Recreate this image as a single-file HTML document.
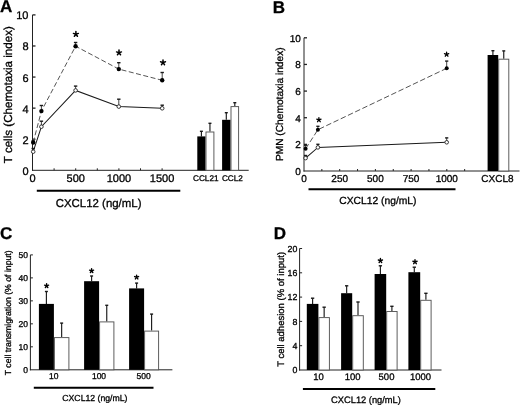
<!DOCTYPE html>
<html><head><meta charset="utf-8"><style>
html,body{margin:0;padding:0;background:#fff;width:520px;height:407px;overflow:hidden}
svg{display:block;filter:blur(0.3px)}
text{text-rendering:geometricPrecision;font-family:"Liberation Sans", sans-serif;fill:#000;stroke:#000;stroke-width:0.3px;paint-order:stroke}
body{-webkit-font-smoothing:antialiased}
svg{will-change:transform}
</style></head><body>
<svg width="520" height="407" viewBox="0 0 520 407">
<rect width="520" height="407" fill="#fff"/>
<text x="0" y="12.4" font-size="17" text-anchor="start" font-weight="bold" >A</text>
<text x="272.7" y="13.3" font-size="17" text-anchor="start" font-weight="bold" >B</text>
<text x="0.1" y="239.1" font-size="17" text-anchor="start" font-weight="bold" >C</text>
<text x="273.8" y="239.0" font-size="17" text-anchor="start" font-weight="bold" >D</text>
<line x1="32.5" y1="14.9" x2="32.5" y2="170.8" stroke="#222" stroke-width="1" />
<line x1="32.0" y1="170.3" x2="248.7" y2="170.3" stroke="#222" stroke-width="1" />
<text x="28.5" y="174.8" font-size="11" text-anchor="end" font-weight="normal" >0</text>
<line x1="32.5" y1="139.22" x2="35.5" y2="139.22" stroke="#222" stroke-width="1.3" />
<text x="28.5" y="143.72" font-size="11" text-anchor="end" font-weight="normal" >2</text>
<line x1="32.5" y1="108.14000000000001" x2="35.5" y2="108.14000000000001" stroke="#222" stroke-width="1.3" />
<text x="28.5" y="112.64000000000001" font-size="11" text-anchor="end" font-weight="normal" >4</text>
<line x1="32.5" y1="77.06" x2="35.5" y2="77.06" stroke="#222" stroke-width="1.3" />
<text x="28.5" y="81.56" font-size="11" text-anchor="end" font-weight="normal" >6</text>
<line x1="32.5" y1="45.980000000000004" x2="35.5" y2="45.980000000000004" stroke="#222" stroke-width="1.3" />
<text x="28.5" y="50.480000000000004" font-size="11" text-anchor="end" font-weight="normal" >8</text>
<line x1="32.5" y1="14.900000000000006" x2="35.5" y2="14.900000000000006" stroke="#222" stroke-width="1.3" />
<text x="28.5" y="19.400000000000006" font-size="11" text-anchor="end" font-weight="normal" >10</text>
<line x1="54.1" y1="170.3" x2="54.1" y2="168.3" stroke="#222" stroke-width="1" />
<line x1="75.7" y1="170.3" x2="75.7" y2="168.3" stroke="#222" stroke-width="1" />
<line x1="97.3" y1="170.3" x2="97.3" y2="168.3" stroke="#222" stroke-width="1" />
<line x1="118.9" y1="170.3" x2="118.9" y2="168.3" stroke="#222" stroke-width="1" />
<line x1="140.5" y1="170.3" x2="140.5" y2="168.3" stroke="#222" stroke-width="1" />
<line x1="162.1" y1="170.3" x2="162.1" y2="168.3" stroke="#222" stroke-width="1" />
<text x="32.5" y="182.4" font-size="11" text-anchor="middle" font-weight="normal" >0</text>
<text x="75.7" y="182.4" font-size="11" text-anchor="middle" font-weight="normal" >500</text>
<text x="118.9" y="182.4" font-size="11" text-anchor="middle" font-weight="normal" >1000</text>
<text x="162.1" y="182.4" font-size="11" text-anchor="middle" font-weight="normal" >1500</text>
<text x="0" y="0" font-size="11.6" text-anchor="middle" transform="translate(11.8,94.7) rotate(-90)">T cells (Chemotaxia index)</text>
<line x1="36.8" y1="190.8" x2="180.3" y2="190.8" stroke="#000" stroke-width="2.1" />
<text x="98.6" y="206.6" font-size="11.45" text-anchor="middle" font-weight="normal" >CXCL12 (ng/mL)</text>
<polyline points="33.2,142.5 41.4,111.1 75.6,46.2 118.8,69.1 162.2,80.3" fill="none" stroke="#555" stroke-width="1" stroke-dasharray="5,2.5"/>
<polyline points="33.2,151.7 41.4,126.7 75.6,90.4 118.8,106.6 162.2,108.3" fill="none" stroke="#1a1a1a" stroke-width="1.05"/>
<line x1="33.2" y1="142.5" x2="33.2" y2="141.0" stroke="#444" stroke-width="1.0" />
<line x1="31.500000000000004" y1="141.0" x2="34.900000000000006" y2="141.0" stroke="#1a1a1a" stroke-width="1.4" />
<line x1="33.2" y1="151.7" x2="33.2" y2="148.5" stroke="#444" stroke-width="1.0" />
<line x1="31.500000000000004" y1="148.5" x2="34.900000000000006" y2="148.5" stroke="#1a1a1a" stroke-width="1.4" />
<line x1="41.4" y1="111.1" x2="41.4" y2="105.5" stroke="#444" stroke-width="1.0" />
<line x1="39.699999999999996" y1="105.5" x2="43.1" y2="105.5" stroke="#1a1a1a" stroke-width="1.4" />
<line x1="41.4" y1="126.7" x2="41.4" y2="121.2" stroke="#444" stroke-width="1.0" />
<line x1="39.699999999999996" y1="121.2" x2="43.1" y2="121.2" stroke="#1a1a1a" stroke-width="1.4" />
<line x1="75.6" y1="46.2" x2="75.6" y2="42.5" stroke="#444" stroke-width="1.0" />
<line x1="73.89999999999999" y1="42.5" x2="77.3" y2="42.5" stroke="#1a1a1a" stroke-width="1.4" />
<line x1="75.6" y1="90.4" x2="75.6" y2="86.1" stroke="#444" stroke-width="1.0" />
<line x1="73.89999999999999" y1="86.1" x2="77.3" y2="86.1" stroke="#1a1a1a" stroke-width="1.4" />
<line x1="118.8" y1="69.1" x2="118.8" y2="62.7" stroke="#444" stroke-width="1.0" />
<line x1="117.1" y1="62.7" x2="120.5" y2="62.7" stroke="#1a1a1a" stroke-width="1.4" />
<line x1="118.8" y1="106.6" x2="118.8" y2="99.2" stroke="#444" stroke-width="1.0" />
<line x1="117.1" y1="99.2" x2="120.5" y2="99.2" stroke="#1a1a1a" stroke-width="1.4" />
<line x1="162.2" y1="80.3" x2="162.2" y2="72.5" stroke="#444" stroke-width="1.0" />
<line x1="160.5" y1="72.5" x2="163.89999999999998" y2="72.5" stroke="#1a1a1a" stroke-width="1.4" />
<line x1="162.2" y1="108.3" x2="162.2" y2="105.2" stroke="#444" stroke-width="1.0" />
<line x1="160.5" y1="105.2" x2="163.89999999999998" y2="105.2" stroke="#1a1a1a" stroke-width="1.4" />
<circle cx="33.2" cy="142.5" r="2.2" fill="#000"/>
<circle cx="33.2" cy="151.7" r="1.8" fill="#fff" stroke="#222" stroke-width="0.9"/>
<circle cx="41.4" cy="111.1" r="2.2" fill="#000"/>
<circle cx="41.4" cy="126.7" r="1.8" fill="#fff" stroke="#222" stroke-width="0.9"/>
<circle cx="75.6" cy="46.2" r="2.2" fill="#000"/>
<circle cx="75.6" cy="90.4" r="1.8" fill="#fff" stroke="#222" stroke-width="0.9"/>
<circle cx="118.8" cy="69.1" r="2.2" fill="#000"/>
<circle cx="118.8" cy="106.6" r="1.8" fill="#fff" stroke="#222" stroke-width="0.9"/>
<circle cx="162.2" cy="80.3" r="2.2" fill="#000"/>
<circle cx="162.2" cy="108.3" r="1.8" fill="#fff" stroke="#222" stroke-width="0.9"/>
<path d="M75.90,34.20L75.90,31.60M75.90,34.20L78.37,33.40M75.90,34.20L77.43,36.30M75.90,34.20L74.37,36.30M75.90,34.20L73.43,33.40" stroke="#000" stroke-width="1.5" stroke-linecap="round" fill="none"/>
<path d="M119.00,52.70L119.00,50.10M119.00,52.70L121.47,51.90M119.00,52.70L120.53,54.80M119.00,52.70L117.47,54.80M119.00,52.70L116.53,51.90" stroke="#000" stroke-width="1.5" stroke-linecap="round" fill="none"/>
<path d="M163.00,62.60L163.00,60.00M163.00,62.60L165.47,61.80M163.00,62.60L164.53,64.70M163.00,62.60L161.47,64.70M163.00,62.60L160.53,61.80" stroke="#000" stroke-width="1.5" stroke-linecap="round" fill="none"/>
<line x1="201.4" y1="136.4" x2="201.4" y2="131.3" stroke="#1a1a1a" stroke-width="1.15" />
<line x1="199.9" y1="131.3" x2="202.9" y2="131.3" stroke="#1a1a1a" stroke-width="1.4" />
<rect x="197.3" y="136.4" width="8.199999999999989" height="33.900000000000006" fill="#000" stroke="none" stroke-width="1"/>
<line x1="209.95" y1="131.5" x2="209.95" y2="123.3" stroke="#1a1a1a" stroke-width="1.15" />
<line x1="208.45" y1="123.3" x2="211.45" y2="123.3" stroke="#1a1a1a" stroke-width="1.4" />
<rect x="206.0" y="132.0" width="7.900000000000006" height="38.30000000000001" fill="#fff" stroke="#555" stroke-width="0.95"/>
<line x1="226.3" y1="119.8" x2="226.3" y2="112.7" stroke="#1a1a1a" stroke-width="1.15" />
<line x1="224.8" y1="112.7" x2="227.8" y2="112.7" stroke="#1a1a1a" stroke-width="1.4" />
<rect x="222.1" y="119.8" width="8.400000000000006" height="50.500000000000014" fill="#000" stroke="none" stroke-width="1"/>
<line x1="234.8" y1="106.1" x2="234.8" y2="102.7" stroke="#1a1a1a" stroke-width="1.15" />
<line x1="233.3" y1="102.7" x2="236.3" y2="102.7" stroke="#1a1a1a" stroke-width="1.4" />
<rect x="231.0" y="106.6" width="7.599999999999994" height="63.70000000000002" fill="#fff" stroke="#555" stroke-width="0.95"/>
<text x="205.8" y="181.3" font-size="8.2" text-anchor="middle" font-weight="normal" >CCL21</text>
<text x="232.4" y="181.3" font-size="8.2" text-anchor="middle" font-weight="normal" >CCL2</text>
<line x1="304.0" y1="37.8" x2="304.0" y2="171.5" stroke="#222" stroke-width="1" />
<line x1="303.5" y1="171.0" x2="519.5" y2="171.0" stroke="#222" stroke-width="1" />
<text x="300.9" y="175.0" font-size="10" text-anchor="end" font-weight="normal" >0</text>
<line x1="304.0" y1="144.36" x2="307.0" y2="144.36" stroke="#222" stroke-width="1.3" />
<text x="300.9" y="148.36" font-size="10" text-anchor="end" font-weight="normal" >2</text>
<line x1="304.0" y1="117.72" x2="307.0" y2="117.72" stroke="#222" stroke-width="1.3" />
<text x="300.9" y="121.72" font-size="10" text-anchor="end" font-weight="normal" >4</text>
<line x1="304.0" y1="91.08000000000001" x2="307.0" y2="91.08000000000001" stroke="#222" stroke-width="1.3" />
<text x="300.9" y="95.08000000000001" font-size="10" text-anchor="end" font-weight="normal" >6</text>
<line x1="304.0" y1="64.44000000000001" x2="307.0" y2="64.44000000000001" stroke="#222" stroke-width="1.3" />
<text x="300.9" y="68.44000000000001" font-size="10" text-anchor="end" font-weight="normal" >8</text>
<line x1="304.0" y1="37.80000000000001" x2="307.0" y2="37.80000000000001" stroke="#222" stroke-width="1.3" />
<text x="300.9" y="41.80000000000001" font-size="10" text-anchor="end" font-weight="normal" >10</text>
<line x1="321.85" y1="171.0" x2="321.85" y2="169.0" stroke="#222" stroke-width="1" />
<line x1="339.7" y1="171.0" x2="339.7" y2="169.0" stroke="#222" stroke-width="1" />
<line x1="357.55" y1="171.0" x2="357.55" y2="169.0" stroke="#222" stroke-width="1" />
<line x1="375.4" y1="171.0" x2="375.4" y2="169.0" stroke="#222" stroke-width="1" />
<line x1="393.25" y1="171.0" x2="393.25" y2="169.0" stroke="#222" stroke-width="1" />
<line x1="411.1" y1="171.0" x2="411.1" y2="169.0" stroke="#222" stroke-width="1" />
<line x1="428.95" y1="171.0" x2="428.95" y2="169.0" stroke="#222" stroke-width="1" />
<line x1="446.8" y1="171.0" x2="446.8" y2="169.0" stroke="#222" stroke-width="1" />
<line x1="464.65" y1="171.0" x2="464.65" y2="169.0" stroke="#222" stroke-width="1" />
<text x="304.0" y="181.6" font-size="10" text-anchor="middle" font-weight="normal" >0</text>
<text x="339.7" y="181.6" font-size="10" text-anchor="middle" font-weight="normal" >250</text>
<text x="375.4" y="181.6" font-size="10" text-anchor="middle" font-weight="normal" >500</text>
<text x="411.1" y="181.6" font-size="10" text-anchor="middle" font-weight="normal" >750</text>
<text x="446.8" y="181.6" font-size="10" text-anchor="middle" font-weight="normal" >1000</text>
<text x="0" y="0" font-size="10.2" text-anchor="middle" transform="translate(283.0,104.2) rotate(-90)">PMN (Chemotaxia index)</text>
<line x1="308.5" y1="189.2" x2="455.5" y2="189.2" stroke="#000" stroke-width="2.1" />
<text x="377.9" y="204.0" font-size="10.3" text-anchor="middle" font-weight="normal" >CXCL12 (ng/mL)</text>
<polyline points="305.6,148.8 317.9,129.7 446.7,68.3" fill="none" stroke="#555" stroke-width="1" stroke-dasharray="5.5,2.5"/>
<polyline points="305.6,158.1 317.9,147.4 446.7,142.3" fill="none" stroke="#1a1a1a" stroke-width="1.05"/>
<line x1="305.6" y1="148.8" x2="305.6" y2="145.2" stroke="#444" stroke-width="1.0" />
<line x1="304.0" y1="145.2" x2="307.20000000000005" y2="145.2" stroke="#1a1a1a" stroke-width="1.4" />
<line x1="305.6" y1="158.1" x2="305.6" y2="155.5" stroke="#444" stroke-width="1.0" />
<line x1="304.0" y1="155.5" x2="307.20000000000005" y2="155.5" stroke="#1a1a1a" stroke-width="1.4" />
<line x1="317.9" y1="129.7" x2="317.9" y2="126.3" stroke="#444" stroke-width="1.0" />
<line x1="316.29999999999995" y1="126.3" x2="319.5" y2="126.3" stroke="#1a1a1a" stroke-width="1.4" />
<line x1="317.9" y1="147.4" x2="317.9" y2="144.3" stroke="#444" stroke-width="1.0" />
<line x1="316.29999999999995" y1="144.3" x2="319.5" y2="144.3" stroke="#1a1a1a" stroke-width="1.4" />
<line x1="446.7" y1="68.3" x2="446.7" y2="61.1" stroke="#444" stroke-width="1.0" />
<line x1="445.09999999999997" y1="61.1" x2="448.3" y2="61.1" stroke="#1a1a1a" stroke-width="1.4" />
<line x1="446.7" y1="142.3" x2="446.7" y2="137.9" stroke="#444" stroke-width="1.0" />
<line x1="445.09999999999997" y1="137.9" x2="448.3" y2="137.9" stroke="#1a1a1a" stroke-width="1.4" />
<circle cx="305.6" cy="148.8" r="2" fill="#000"/>
<circle cx="305.6" cy="158.1" r="1.8" fill="#fff" stroke="#222" stroke-width="0.9"/>
<circle cx="317.9" cy="129.7" r="2" fill="#000"/>
<circle cx="317.9" cy="147.4" r="1.8" fill="#fff" stroke="#222" stroke-width="0.9"/>
<circle cx="446.7" cy="68.3" r="2" fill="#000"/>
<circle cx="446.7" cy="142.3" r="1.8" fill="#fff" stroke="#222" stroke-width="0.9"/>
<path d="M318.90,119.90L318.90,117.65M318.90,119.90L321.04,119.20M318.90,119.90L320.22,121.72M318.90,119.90L317.58,121.72M318.90,119.90L316.76,119.20" stroke="#000" stroke-width="1.3" stroke-linecap="round" fill="none"/>
<path d="M446.60,54.40L446.60,52.15M446.60,54.40L448.74,53.70M446.60,54.40L447.92,56.22M446.60,54.40L445.28,56.22M446.60,54.40L444.46,53.70" stroke="#000" stroke-width="1.3" stroke-linecap="round" fill="none"/>
<line x1="492.9" y1="55.0" x2="492.9" y2="50.7" stroke="#1a1a1a" stroke-width="1.15" />
<line x1="491.4" y1="50.7" x2="494.4" y2="50.7" stroke="#1a1a1a" stroke-width="1.4" />
<rect x="487.6" y="55.0" width="10.599999999999966" height="116.0" fill="#000" stroke="none" stroke-width="1"/>
<line x1="503.75" y1="58.7" x2="503.75" y2="50.9" stroke="#1a1a1a" stroke-width="1.15" />
<line x1="502.25" y1="50.9" x2="505.25" y2="50.9" stroke="#1a1a1a" stroke-width="1.4" />
<rect x="498.7" y="59.2" width="10.100000000000023" height="111.8" fill="#fff" stroke="#555" stroke-width="0.95"/>
<text x="497.4" y="182.0" font-size="10" text-anchor="middle" font-weight="normal" >CXCL8</text>
<line x1="30.4" y1="254.9" x2="30.4" y2="370.3" stroke="#222" stroke-width="1" />
<line x1="29.9" y1="369.8" x2="172.4" y2="369.8" stroke="#222" stroke-width="1" />
<text x="27.9" y="372.8" font-size="8.5" text-anchor="end" font-weight="normal" >0</text>
<line x1="30.4" y1="346.82" x2="32.9" y2="346.82" stroke="#222" stroke-width="1" />
<text x="27.9" y="349.82" font-size="8.5" text-anchor="end" font-weight="normal" >10</text>
<line x1="30.4" y1="323.84000000000003" x2="32.9" y2="323.84000000000003" stroke="#222" stroke-width="1" />
<text x="27.9" y="326.84000000000003" font-size="8.5" text-anchor="end" font-weight="normal" >20</text>
<line x1="30.4" y1="300.86" x2="32.9" y2="300.86" stroke="#222" stroke-width="1" />
<text x="27.9" y="303.86" font-size="8.5" text-anchor="end" font-weight="normal" >30</text>
<line x1="30.4" y1="277.88" x2="32.9" y2="277.88" stroke="#222" stroke-width="1" />
<text x="27.9" y="280.88" font-size="8.5" text-anchor="end" font-weight="normal" >40</text>
<line x1="30.4" y1="254.9" x2="32.9" y2="254.9" stroke="#222" stroke-width="1" />
<text x="27.9" y="257.9" font-size="8.5" text-anchor="end" font-weight="normal" >50</text>
<text x="53.8" y="378.9" font-size="8.5" text-anchor="middle" font-weight="normal" >10</text>
<text x="99.0" y="378.9" font-size="8.5" text-anchor="middle" font-weight="normal" >100</text>
<text x="143.6" y="378.9" font-size="8.5" text-anchor="middle" font-weight="normal" >500</text>
<text x="0" y="0" font-size="8.7" text-anchor="middle" transform="translate(10.6,312.8) rotate(-90)">T cell transmigration (% of input)</text>
<line x1="33.8" y1="387.8" x2="153.5" y2="387.8" stroke="#000" stroke-width="2.1" />
<text x="94.9" y="400.6" font-size="8.7" text-anchor="middle" font-weight="normal" >CXCL12 (ng/mL)</text>
<line x1="46.4" y1="303.9" x2="46.4" y2="291.5" stroke="#1a1a1a" stroke-width="1.15" />
<line x1="44.9" y1="291.5" x2="47.9" y2="291.5" stroke="#1a1a1a" stroke-width="1.4" />
<rect x="38.9" y="303.9" width="15.0" height="65.90000000000003" fill="#000" stroke="none" stroke-width="1"/>
<line x1="61.650000000000006" y1="337.1" x2="61.650000000000006" y2="323.1" stroke="#1a1a1a" stroke-width="1.15" />
<line x1="60.150000000000006" y1="323.1" x2="63.150000000000006" y2="323.1" stroke="#1a1a1a" stroke-width="1.4" />
<rect x="54.4" y="337.6" width="14.500000000000007" height="32.19999999999999" fill="#fff" stroke="#555" stroke-width="0.95"/>
<line x1="91.6" y1="281.2" x2="91.6" y2="276.0" stroke="#1a1a1a" stroke-width="1.15" />
<line x1="90.1" y1="276.0" x2="93.1" y2="276.0" stroke="#1a1a1a" stroke-width="1.4" />
<rect x="84.1" y="281.2" width="15.0" height="88.60000000000002" fill="#000" stroke="none" stroke-width="1"/>
<line x1="106.75" y1="321.4" x2="106.75" y2="305.3" stroke="#1a1a1a" stroke-width="1.15" />
<line x1="105.25" y1="305.3" x2="108.25" y2="305.3" stroke="#1a1a1a" stroke-width="1.4" />
<rect x="99.6" y="321.9" width="14.300000000000011" height="47.900000000000034" fill="#fff" stroke="#555" stroke-width="0.95"/>
<line x1="136.6" y1="288.4" x2="136.6" y2="283.1" stroke="#1a1a1a" stroke-width="1.15" />
<line x1="135.1" y1="283.1" x2="138.1" y2="283.1" stroke="#1a1a1a" stroke-width="1.4" />
<rect x="129.1" y="288.4" width="15.0" height="81.40000000000003" fill="#000" stroke="none" stroke-width="1"/>
<line x1="151.6" y1="330.6" x2="151.6" y2="314.1" stroke="#1a1a1a" stroke-width="1.15" />
<line x1="150.1" y1="314.1" x2="153.1" y2="314.1" stroke="#1a1a1a" stroke-width="1.4" />
<rect x="144.6" y="331.1" width="14.0" height="38.69999999999999" fill="#fff" stroke="#555" stroke-width="0.95"/>
<path d="M46.60,285.80L46.60,283.70M46.60,285.80L48.60,285.15M46.60,285.80L47.83,287.50M46.60,285.80L45.37,287.50M46.60,285.80L44.60,285.15" stroke="#000" stroke-width="1.4" stroke-linecap="round" fill="none"/>
<path d="M91.60,270.80L91.60,268.70M91.60,270.80L93.60,270.15M91.60,270.80L92.83,272.50M91.60,270.80L90.37,272.50M91.60,270.80L89.60,270.15" stroke="#000" stroke-width="1.4" stroke-linecap="round" fill="none"/>
<path d="M136.60,277.20L136.60,275.10M136.60,277.20L138.60,276.55M136.60,277.20L137.83,278.90M136.60,277.20L135.37,278.90M136.60,277.20L134.60,276.55" stroke="#000" stroke-width="1.4" stroke-linecap="round" fill="none"/>
<line x1="299.6" y1="248.5" x2="299.6" y2="370.5" stroke="#222" stroke-width="1" />
<line x1="299.1" y1="370.0" x2="441.5" y2="370.0" stroke="#222" stroke-width="1" />
<text x="297.3" y="373.1" font-size="8.8" text-anchor="end" font-weight="normal" >0</text>
<line x1="299.6" y1="345.7" x2="302.1" y2="345.7" stroke="#222" stroke-width="1" />
<text x="297.3" y="348.8" font-size="8.8" text-anchor="end" font-weight="normal" >4</text>
<line x1="299.6" y1="321.4" x2="302.1" y2="321.4" stroke="#222" stroke-width="1" />
<text x="297.3" y="324.5" font-size="8.8" text-anchor="end" font-weight="normal" >8</text>
<line x1="299.6" y1="297.1" x2="302.1" y2="297.1" stroke="#222" stroke-width="1" />
<text x="297.3" y="300.20000000000005" font-size="8.8" text-anchor="end" font-weight="normal" >12</text>
<line x1="299.6" y1="272.8" x2="302.1" y2="272.8" stroke="#222" stroke-width="1" />
<text x="297.3" y="275.90000000000003" font-size="8.8" text-anchor="end" font-weight="normal" >16</text>
<line x1="299.6" y1="248.5" x2="302.1" y2="248.5" stroke="#222" stroke-width="1" />
<text x="297.3" y="251.6" font-size="8.8" text-anchor="end" font-weight="normal" >20</text>
<text x="318.6" y="380.4" font-size="9.5" text-anchor="middle" font-weight="normal" >10</text>
<text x="352.6" y="380.4" font-size="9.5" text-anchor="middle" font-weight="normal" >100</text>
<text x="386.5" y="380.4" font-size="9.5" text-anchor="middle" font-weight="normal" >500</text>
<text x="420.6" y="380.4" font-size="9.5" text-anchor="middle" font-weight="normal" >1000</text>
<text x="0" y="0" font-size="9.5" text-anchor="middle" transform="translate(283.5,309.4) rotate(-90)">T cell adhesion (% of input)</text>
<line x1="302.9" y1="389.0" x2="435.3" y2="389.0" stroke="#000" stroke-width="2.1" />
<text x="366.0" y="403.0" font-size="9.3" text-anchor="middle" font-weight="normal" >CXCL12 (ng/mL)</text>
<line x1="312.6" y1="303.9" x2="312.6" y2="298.2" stroke="#1a1a1a" stroke-width="1.15" />
<line x1="310.95000000000005" y1="298.2" x2="314.25" y2="298.2" stroke="#1a1a1a" stroke-width="1.4" />
<rect x="306.8" y="303.9" width="11.599999999999966" height="66.10000000000002" fill="#000" stroke="none" stroke-width="1"/>
<line x1="324.15" y1="317.1" x2="324.15" y2="307.2" stroke="#1a1a1a" stroke-width="1.15" />
<line x1="322.5" y1="307.2" x2="325.79999999999995" y2="307.2" stroke="#1a1a1a" stroke-width="1.4" />
<rect x="318.9" y="317.6" width="10.5" height="52.39999999999998" fill="#fff" stroke="#555" stroke-width="0.95"/>
<line x1="346.65" y1="293.2" x2="346.65" y2="285.8" stroke="#1a1a1a" stroke-width="1.15" />
<line x1="345.0" y1="285.8" x2="348.29999999999995" y2="285.8" stroke="#1a1a1a" stroke-width="1.4" />
<rect x="341.1" y="293.2" width="11.099999999999966" height="76.80000000000001" fill="#000" stroke="none" stroke-width="1"/>
<line x1="358.0" y1="315.2" x2="358.0" y2="302.0" stroke="#1a1a1a" stroke-width="1.15" />
<line x1="356.35" y1="302.0" x2="359.65" y2="302.0" stroke="#1a1a1a" stroke-width="1.4" />
<rect x="352.7" y="315.7" width="10.600000000000023" height="54.30000000000001" fill="#fff" stroke="#555" stroke-width="0.95"/>
<line x1="380.4" y1="274.0" x2="380.4" y2="265.8" stroke="#1a1a1a" stroke-width="1.15" />
<line x1="378.75" y1="265.8" x2="382.04999999999995" y2="265.8" stroke="#1a1a1a" stroke-width="1.4" />
<rect x="374.6" y="274.0" width="11.599999999999966" height="96.0" fill="#000" stroke="none" stroke-width="1"/>
<line x1="391.9" y1="311.0" x2="391.9" y2="306.3" stroke="#1a1a1a" stroke-width="1.15" />
<line x1="390.25" y1="306.3" x2="393.54999999999995" y2="306.3" stroke="#1a1a1a" stroke-width="1.4" />
<rect x="386.7" y="311.5" width="10.400000000000034" height="58.5" fill="#fff" stroke="#555" stroke-width="0.95"/>
<line x1="414.29999999999995" y1="272.2" x2="414.29999999999995" y2="267.2" stroke="#1a1a1a" stroke-width="1.15" />
<line x1="412.65" y1="267.2" x2="415.94999999999993" y2="267.2" stroke="#1a1a1a" stroke-width="1.4" />
<rect x="408.4" y="272.2" width="11.800000000000011" height="97.80000000000001" fill="#000" stroke="none" stroke-width="1"/>
<line x1="425.9" y1="299.8" x2="425.9" y2="293.3" stroke="#1a1a1a" stroke-width="1.15" />
<line x1="424.25" y1="293.3" x2="427.54999999999995" y2="293.3" stroke="#1a1a1a" stroke-width="1.4" />
<rect x="420.7" y="300.3" width="10.400000000000034" height="69.69999999999999" fill="#fff" stroke="#555" stroke-width="0.95"/>
<path d="M380.40,260.70L380.40,258.50M380.40,260.70L382.49,260.02M380.40,260.70L381.69,262.48M380.40,260.70L379.11,262.48M380.40,260.70L378.31,260.02" stroke="#000" stroke-width="1.4" stroke-linecap="round" fill="none"/>
<path d="M415.00,261.90L415.00,259.70M415.00,261.90L417.09,261.22M415.00,261.90L416.29,263.68M415.00,261.90L413.71,263.68M415.00,261.90L412.91,261.22" stroke="#000" stroke-width="1.4" stroke-linecap="round" fill="none"/>
</svg>
</body></html>
